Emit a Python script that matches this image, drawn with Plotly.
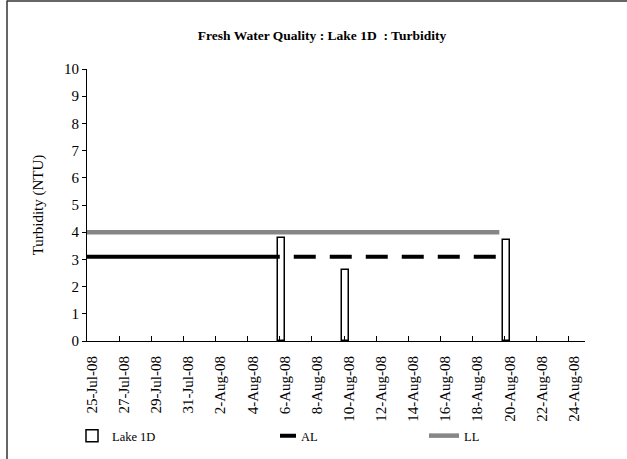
import plotly.graph_objects as go

# ---- data ----
tick_dates = ["2008-07-25", "2008-07-27", "2008-07-29", "2008-07-31", "2008-08-02",
              "2008-08-04", "2008-08-06", "2008-08-08", "2008-08-10", "2008-08-12",
              "2008-08-14", "2008-08-16", "2008-08-18", "2008-08-20", "2008-08-22",
              "2008-08-24"]
tick_labels = ["25-Jul-08", "27-Jul-08", "29-Jul-08", "31-Jul-08", "2-Aug-08",
               "4-Aug-08", "6-Aug-08", "8-Aug-08", "10-Aug-08", "12-Aug-08",
               "14-Aug-08", "16-Aug-08", "18-Aug-08", "20-Aug-08", "22-Aug-08",
               "24-Aug-08"]

sample_dates = ["2008-08-06", "2008-08-10", "2008-08-20"]
lake_1d = [3.8, 2.6, 3.7]

al_solid_dates = ["2008-07-25", "2008-08-06"]
al_solid_values = [3.1, 3.1]
al_dashed_dates = ["2008-08-06", "2008-08-19 16:00"]
al_dashed_values = [3.1, 3.1]

ll_dates = ["2008-07-25", "2008-08-19 16:00"]
ll_values = [4.0, 4.0]

FONT = "Times New Roman, Liberation Serif, DejaVu Serif, serif"
DAY_MS = 86400000

fig = go.Figure()

fig.add_trace(go.Bar(
    x=sample_dates, y=lake_1d, name="Lake 1D",
    width=0.44 * DAY_MS, offset=-0.1 * DAY_MS,
    marker=dict(color="white", line=dict(color="black", width=1.5)),
    legend="legend",
))
fig.add_trace(go.Scatter(
    x=al_solid_dates, y=al_solid_values, mode="lines", name="AL",
    line=dict(color="black", width=4), showlegend=False,
))
fig.add_trace(go.Scatter(
    x=al_dashed_dates, y=al_dashed_values, mode="lines", name="AL",
    line=dict(color="black", width=4, dash="0px,14px,22px,0px"),
    legend="legend2",
))
fig.add_trace(go.Scatter(
    x=ll_dates, y=ll_values, mode="lines", name="LL",
    line=dict(color="#868686", width=4.5),
    legend="legend3",
))

W, H = 627, 459
L, R, T, B = 87, 42, 69, 118
pw, ph = W - L - R, H - T - B

def px_x(px):
    return (px - L) / pw

def px_y(py):
    return (H - B - py) / ph

leg_common = dict(orientation="h", yanchor="middle", xanchor="left",
                  bgcolor="rgba(0,0,0,0)", font=dict(family=FONT, size=12.5, color="black"))

fig.update_layout(
    width=W, height=H,
    margin=dict(l=L, r=R, t=T, b=B, autoexpand=False),
    paper_bgcolor="white", plot_bgcolor="white",
    font=dict(family=FONT, size=15, color="black"),
    title=dict(text="<b>Fresh Water Quality : Lake 1D  : Turbidity</b>",
               x=322 / W, xanchor="center", y=1 - 35 / H, yanchor="middle",
               font=dict(family=FONT, size=13.5, color="black")),
    bargap=0,
    legend=dict(x=px_x(72), y=px_y(436), **leg_common),
    legend2=dict(x=px_x(261), y=px_y(436), **leg_common),
    legend3=dict(x=px_x(424), y=px_y(436), **leg_common),
    xaxis=dict(
        type="date", range=["2008-07-25", "2008-08-25"],
        tickmode="array", tickvals=tick_dates, ticktext=tick_labels,
        tickangle=-90, ticks="inside", ticklen=5, tickcolor="black",
        showline=True, linecolor="black", linewidth=1,
        showgrid=False, zeroline=False, automargin=False,
        tickfont=dict(family=FONT, size=15, color="black"),
        ticklabelshift=5, ticklabelstandoff=8,
    ),
    yaxis=dict(
        range=[0, 10], dtick=1, tick0=0,
        ticks="outside", ticklen=4, tickcolor="black",
        showline=True, linecolor="black", linewidth=1,
        showgrid=False, zeroline=False, automargin=False,
        tickfont=dict(family=FONT, size=15, color="black"),
        title=dict(text="Turbidity (NTU)", standoff=16,
                   font=dict(family=FONT, size=15, color="black")),
    ),
    shapes=[
        dict(type="line", xref="paper", yref="paper",
             x0=px_x(7), x1=px_x(7), y0=px_y(H), y1=px_y(0.5),
             line=dict(color="#333333", width=1.5)),
        dict(type="line", xref="paper", yref="paper",
             x0=px_x(7), x1=px_x(W), y0=px_y(1), y1=px_y(1),
             line=dict(color="#333333", width=1.5)),
    ],
)

fig.write_html("out.html", config={"displayModeBar": False},
               post_script="document.body.style.margin='0';")
